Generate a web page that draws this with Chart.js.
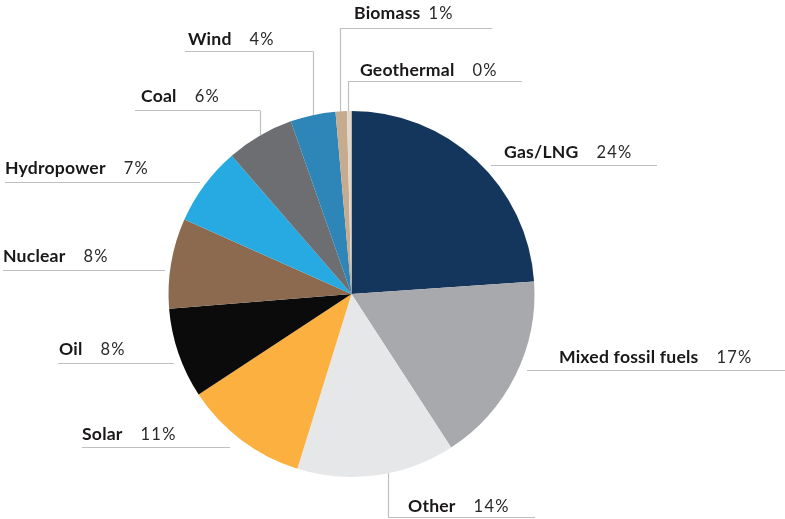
<!DOCTYPE html>
<html>
<head>
<meta charset="utf-8">
<script src="https://cdn.jsdelivr.net/npm/chart.js@4.4.1/dist/chart.umd.min.js"></script>
<style>
  html, body { margin: 0; padding: 0; background: #fff; }
  canvas { display: block; }
</style>
</head>
<body>
<canvas id="myChart" width="785" height="519"></canvas>
<script>
// energy mix, clockwise from 12 o'clock
const sources = ['Gas/LNG', 'Mixed fossil fuels', 'Other', 'Solar', 'Oil', 'Nuclear', 'Hydropower', 'Coal', 'Wind', 'Biomass', 'Geothermal'];
const shares = [24, 17, 14, 11, 8, 8, 7, 6, 4, 1, 0.4];
const sliceColors = ['#14365c', '#a7a9ac', '#e6e7e8', '#fbb040', '#0b0b0b', '#8b6a4f', '#27aae1', '#6d6e71', '#2e86b8', '#c7ab8e', '#e3d7ca'];

// where each callout sits: underline y, underline span, optional elbow x, text x / baseline
const callouts = [
    { ly: 165, x0: 491, x1: 657, tx: 504, ty: 158 },
    { ly: 370, x0: 527, x1: 785, tx: 559, ty: 363 },
    { ly: 517, x0: 388, x1: 535, elbow: 388, tx: 408, ty: 511.5 },
    { ly: 447, x0: 82, x1: 230, tx: 82, ty: 440 },
    { ly: 363, x0: 58, x1: 174, tx: 59, ty: 354.5 },
    { ly: 270, x0: 3, x1: 165, tx: 3, ty: 262 },
    { ly: 182, x0: 5, x1: 200, tx: 5, ty: 174 },
    { ly: 110, x0: 135, x1: 260, elbow: 260, tx: 141, ty: 101.5 },
    { ly: 51, x0: 185, x1: 313, elbow: 313, tx: 188, ty: 45 },
    { ly: 28, x0: 340, x1: 492, elbow: 340, tx: 354, ty: 19, gap: 8 },
    { ly: 81, x0: 348, x1: 522, elbow: 348, tx: 360, ty: 76 }
];

const calloutPlugin = {
    id: 'callouts',
    afterDatasetsDraw(chart) {
        const ctx = chart.ctx;
        const arc = chart.getDatasetMeta(0).data[0];
        const cx = arc.x, cy = arc.y, r = arc.outerRadius;

        ctx.save();
        ctx.strokeStyle = '#bdbfc1';
        ctx.lineWidth = 1.2;
        callouts.forEach(c => {
            ctx.beginPath();
            ctx.moveTo(c.x0, c.ly + 0.5);
            ctx.lineTo(c.x1, c.ly + 0.5);
            if (c.elbow !== undefined) {
                const dx = c.elbow - cx;
                const h = Math.sqrt(Math.max(r * r - dx * dx, 0));
                const edge = c.ly < cy ? cy - h : cy + h;
                ctx.moveTo(c.elbow + 0.5, c.ly + 0.5);
                ctx.lineTo(c.elbow + 0.5, edge);
            }
            ctx.stroke();
        });

        ctx.textBaseline = 'alphabetic';
        ctx.textAlign = 'left';
        callouts.forEach((c, i) => {
            ctx.font = 'bold 17.6px Lato';
            ctx.letterSpacing = '0.2px';
            ctx.fillStyle = '#1a1718';
            ctx.fillText(sources[i], c.tx, c.ty);
            const w = ctx.measureText(sources[i]).width;
            ctx.font = '16.5px Lato';
            ctx.letterSpacing = '1.2px';
            ctx.fillStyle = '#2b2829';
            ctx.fillText(Math.round(shares[i]) + '%', c.tx + w + (c.gap || 18), c.ty);
        });
        ctx.restore();
    }
};

const ctx = document.getElementById('myChart');
const pie = new Chart(ctx, {
    type: 'pie',
    data: {
        labels: sources,
        datasets: [{
            data: shares,
            backgroundColor: sliceColors,
            borderWidth: 0
        }]
    },
    options: {
        responsive: false,
        animation: false,
        layout: {
            padding: { left: 168.5, right: 250.5, top: 111, bottom: 42 }
        },
        plugins: {
            legend: { display: false },
            tooltip: { enabled: false }
        }
    },
    plugins: [calloutPlugin]
});
</script>
</body>
</html>
